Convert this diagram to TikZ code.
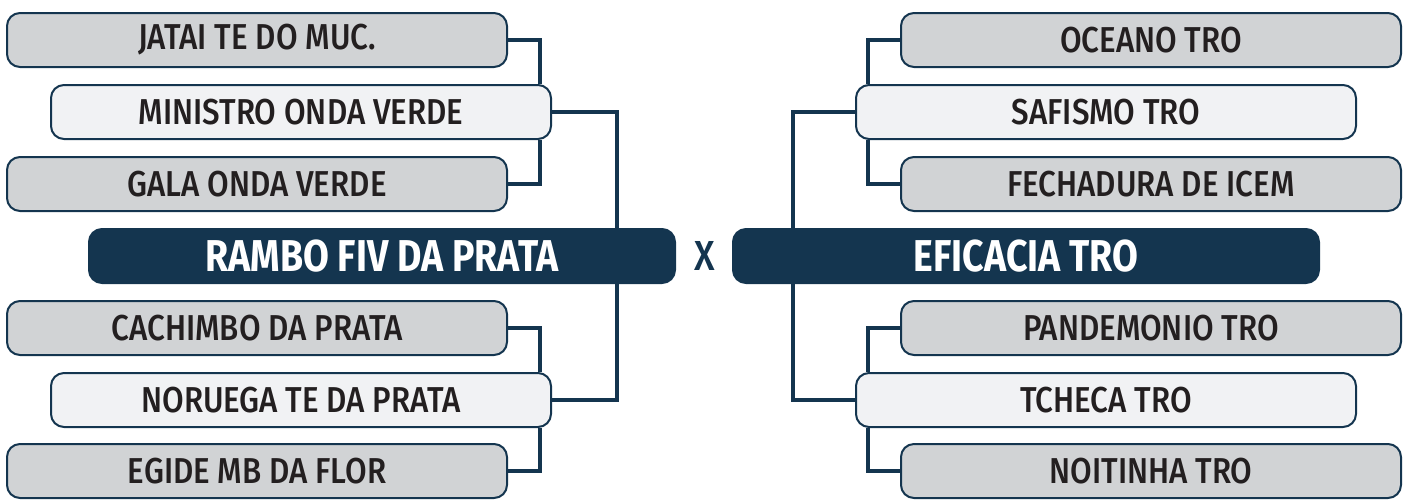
\documentclass[tikz,border=0pt]{standalone}
\usepackage{fontspec}
\setmainfont{Fira Sans Medium}[FakeStretch=0.87, BoldFont={Fira Sans Bold}, BoldFeatures={FakeStretch=0.84}]
\usetikzlibrary{backgrounds}
\definecolor{navy}{HTML}{14354F}
\definecolor{boxgray}{HTML}{D1D3D5}
\definecolor{boxlight}{HTML}{F1F2F4}
\definecolor{txt}{HTML}{231F20}
\begin{document}
\begin{tikzpicture}[x=0.5pt,y=-0.5pt,
  base/.style={rounded corners=6.5pt, draw=navy, line width=1pt, minimum width=250pt, minimum height=27pt, inner sep=0pt, text=txt, font=\fontsize{18}{18}\selectfont},
  graybox/.style={base, fill=boxgray},
  lightbox/.style={base, fill=boxlight},
  mainbox/.style={rounded corners=6.5pt, fill=navy, draw=navy, line width=1pt, minimum width=293pt, minimum height=27pt, inner sep=0pt, text=white, font=\fontsize{22.3}{22.3}\selectfont\bfseries},
  link/.style={draw=navy, line width=2.4pt},
  vs/.style={text=navy, inner sep=0pt, font=\fontsize{21}{21}\selectfont}]
\useasboundingbox (0,0) rectangle (1413,500);
% left side
\node[graybox]  (jatai)    at (257,40)  {JATAI TE DO MUC.};
\node[lightbox] (ministro) at (301,112) {MINISTRO ONDA VERDE};
\node[graybox]  (gala)     at (257,184) {GALA ONDA VERDE};
\node[mainbox]  (rambo)    at (382,256) {RAMBO FIV DA PRATA};
\node[graybox]  (cachimbo) at (257,328) {CACHIMBO DA PRATA};
\node[lightbox] (noruega)  at (301,400) {NORUEGA TE DA PRATA};
\node[graybox]  (egide)    at (257,471) {EGIDE MB DA FLOR};
% centre
\node[vs] (x) at (705,256) {X};
% right side
\node[graybox]  (oceano)     at (1151,40)  {OCEANO TRO};
\node[lightbox] (safismo)    at (1106,112) {SAFISMO TRO};
\node[graybox]  (fechadura)  at (1151,184) {FECHADURA DE ICEM};
\node[mainbox]  (eficacia)   at (1026,256) {EFICACIA TRO};
\node[graybox]  (pandemonio) at (1151,328) {PANDEMONIO TRO};
\node[lightbox] (tcheca)     at (1106,400) {TCHECA TRO};
\node[graybox]  (noitinha)   at (1151,471) {NOITINHA TRO};
\coordinate (lj) at (617,256);
\coordinate (rj) at (793,256);
\begin{scope}[on background layer]
  \draw[link] (jatai.east) -| ([xshift=-6pt]ministro.north east);
  \draw[link] (gala.east) -| ([xshift=-6pt]ministro.south east);
  \draw[link] (cachimbo.east) -| ([xshift=-6pt]noruega.north east);
  \draw[link] (egide.east) -| ([xshift=-6pt]noruega.south east);
  \draw[link] (ministro.east) -| (lj) |- (noruega.east);
  \draw[link] (oceano.west) -| ([xshift=6.5pt]safismo.north west);
  \draw[link] (fechadura.west) -| ([xshift=6.5pt]safismo.south west);
  \draw[link] (pandemonio.west) -| ([xshift=6.5pt]tcheca.north west);
  \draw[link] (noitinha.west) -| ([xshift=6.5pt]tcheca.south west);
  \draw[link] (safismo.west) -| (rj) |- (tcheca.west);
\end{scope}
\end{tikzpicture}
\end{document}
